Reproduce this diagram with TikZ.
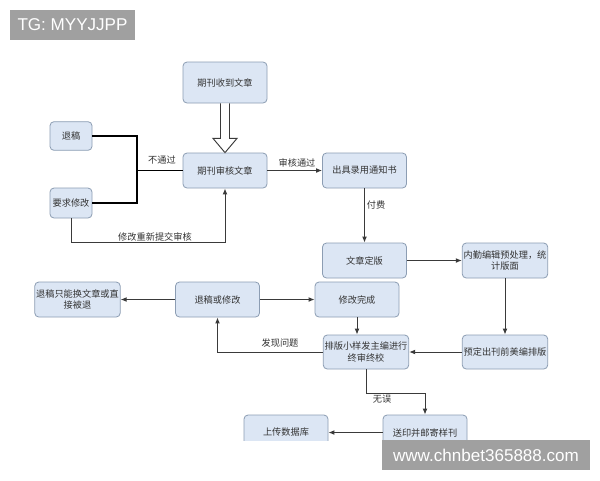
\documentclass[tikz,border=0pt]{standalone}
\usepackage{fontspec}
\setmainfont{Liberation Sans}
\newfontfamily\cjk{Noto Sans CJK SC}
\usetikzlibrary{arrows.meta,calc}
\definecolor{boxfill}{HTML}{DCE6F4}
\definecolor{boxline}{HTML}{8C9DB3}
\definecolor{linecol}{HTML}{3A3A3A}
\definecolor{wmgray}{HTML}{A0A0A0}
\tikzset{
  box/.style={draw=boxline, fill=boxfill, rounded corners=3pt, line width=0.6pt,
    minimum width=63pt, minimum height=26.25pt, inner sep=1pt, align=center,
    text=black!80, font=\cjk\fontsize{6.9}{8.6}\selectfont},
  smallbox/.style={box, minimum width=31.5pt, minimum height=21.5pt},
  conn/.style={draw=linecol, line width=0.75pt},
  arr/.style={conn, -{Latex[length=4.5pt,width=3.6pt]}},
  thick conn/.style={draw=black, line width=1.4pt},
  lbl/.style={font=\cjk\fontsize{6.9}{8.6}\selectfont, text=black!80, inner sep=0pt},
  wm/.style={fill=wmgray, text=white, inner sep=0pt, font=\fontsize{12.8}{14}\selectfont}
}
\begin{document}
\begin{tikzpicture}[x=0.75pt,y=-0.75pt]
\useasboundingbox (0,0) rectangle (600,480);
\fill[white] (0,0) rectangle (600,480);
\begin{scope}
\clip (0,0) rectangle (600,440);
% nodes
\node[box, minimum height=30.75pt] (recv) at (225,82.5) {期刊收到文章};
\node[box] (review) at (225,170.5) {期刊审核文章};
\node[smallbox] (tuigao) at (71,136) {退稿};
\node[smallbox, minimum height=22.5pt] (yaoqiu) at (71,203) {要求修改};
\node[box] (notice) at (364.5,170.5) {出具录用通知书};
\node[box] (dingban) at (364.5,260.5) {文章定版};
\node[box] (neiqin) at (505,260.5) {内勤编辑预处理，统\\计版面};
\node[box] (xiugai) at (357,299.5) {修改完成};
\node[box, minimum height=25.5pt] (paiban) at (366,352) {排版小样发主编进行\\终审终校};
\node[box, minimum height=25.5pt] (yuding) at (505,352) {预定出刊前美编排版};
\node[box] (songyin) at (425,432.5) {送印并邮寄样刊};
\node[box] (shangchuan) at (286,432.5) {上传数据库};
\node[box] (tgxg) at (217.5,299.5) {退稿或修改};
\node[box] (tgzn) at (77.5,299.5) {退稿只能换文章或直\\接被退};
% hollow arrow
\draw[draw=linecol, fill=white, line width=0.7pt, line join=miter]
  ($(recv.south)+(-4.5,0)$) -- ($(recv.south)+(-4.5,35)$) -- ($(recv.south)+(-12,35)$)
  -- (review.north) -- ($(recv.south)+(12,35)$) -- ($(recv.south)+(4.5,35)$)
  -- ($(recv.south)+(4.5,0)$);
% rejection joint
\coordinate (j) at (137,170.5);
\draw[thick conn] (tuigao.east) -| (j);
\draw[thick conn] (yaoqiu.east) -| (j);
\draw[thick conn] (j) -- (review.west);
\node[lbl] (l1) at (162,160) {不通过};
% resubmit
\coordinate (rs) at ($(yaoqiu.south)+(0,24)$);
\draw[arr] (yaoqiu.south) -- (rs) -| (review.south);
\node[lbl] (l2) at (155,236.5) {修改重新提交审核};
% pass
\draw[arr] (review.east) -- (notice.west);
\node[lbl] (l3) at (297,163) {审核通过};
\draw[arr] (notice.south) -- (dingban.north);
\node[lbl] (l4) at (376,205.5) {付费};
\draw[arr] (dingban.east) -- (neiqin.west);
\draw[arr] (neiqin.south) -- (yuding.north);
\draw[arr] (yuding.west) -- (paiban.east);
\draw[arr] (xiugai.south) -- (xiugai.south |- paiban.north);
% problem found
\draw[arr] (paiban.west) -| (tgxg.south);
\node[lbl] (l5) at (280,342.5) {发现问题};
\draw[arr] (tgxg.east) -- (xiugai.west);
\draw[arr] (tgxg.west) -- (tgzn.east);
% no error
\coordinate (ne) at ($(paiban.south)+(0,24)$);
\draw[arr] (paiban.south) -- (ne) -| (songyin.north);
\node[lbl, anchor=north] (l6) at (382,394.5) {无误};
\draw[arr] (songyin.west) -- (shangchuan.east);
\end{scope}
% watermarks
\node[wm, minimum width=93.75pt, minimum height=22.5pt] (wm1) at (72.5,25) {TG: MYYJJPP};
\node[wm, minimum width=156pt, minimum height=22.5pt] (wm2) at (486,455) {www.chnbet365888.com};
\end{tikzpicture}
\end{document}
